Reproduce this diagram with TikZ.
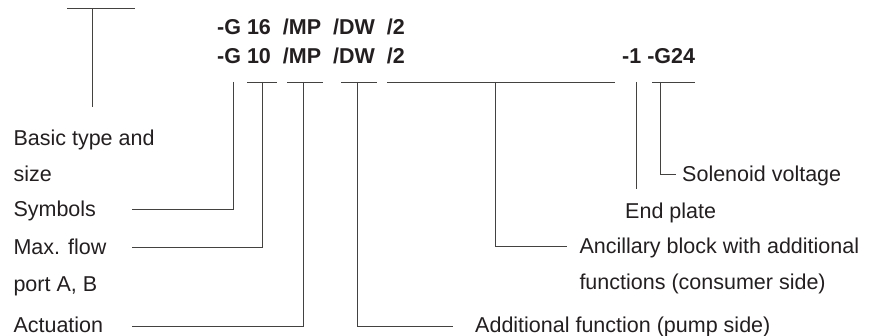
\documentclass[tikz,border=0pt]{standalone}
\usepackage{fontspec}
\setmainfont{Liberation Sans}
\definecolor{ink}{HTML}{231F20}
\begin{document}
\begin{tikzpicture}[x=1pt,y=-1pt,
  lbl/.style={font=\fontsize{21.5}{24}\selectfont,text=ink,inner sep=0pt,anchor=base west},
  code/.style={font=\fontsize{21.5}{24}\selectfont\bfseries,text=ink,inner sep=0pt,anchor=base west},
  wire/.style={draw=ink!85,line width=0.9pt}]
\useasboundingbox (0,0) rectangle (878,336);
% code lines
\node[code] (c1) at (217,35) {-G 16\ \ /MP\ \ /DW\ \ /2};
\node[code] (c2) at (217,64) {-G 10\ \ /MP\ \ /DW\ \ /2};
\node[code] (c3) at (622,64) {-1 -G24};
% labels left
\node[lbl] (basic) at (13.3,146) {Basic type and};
\node[lbl] (size) at (13.3,182) {size};
\node[lbl] (sym) at (13.3,217) {Symbols};
\node[lbl] (maxf) at (13.3,254.5) {Max. flow};
\node[lbl] (port) at (13.3,292) {port A, B};
\node[lbl] (act) at (13.3,333) {Actuation};
% labels right
\node[lbl] (sol) at (682,181.5) {Solenoid voltage};
\node[lbl] (endp) at (625,219) {End plate};
\node[lbl] (anc) at (579.3,254) {Ancillary block with additional};
\node[lbl] (fun) at (579.3,290) {functions (consumer side)};
\node[lbl] (add) at (475,333) {Additional function (pump side)};
% coordinates
\coordinate (tl) at (67,8.3); \coordinate (tr) at (135,8.3);
\coordinate (tm) at (92.7,8.3); \coordinate (tb) at (92.7,107);
\coordinate (gTop) at (233.3,82); \coordinate (gEnd) at (131.7,209.3);
\coordinate (aL) at (247,82); \coordinate (aR) at (277,82); \coordinate (aM) at (262.3,82); \coordinate (aEnd) at (131.7,247.3);
\coordinate (bL) at (287,82); \coordinate (bR) at (323,82); \coordinate (bM) at (303.3,82); \coordinate (bEnd) at (131.7,326);
\coordinate (dL) at (341,82); \coordinate (dR) at (377,82); \coordinate (dM) at (357.7,82); \coordinate (dEnd) at (453,326);
\coordinate (eL) at (387,82); \coordinate (eR) at (615,82); \coordinate (eM) at (495.7,82); \coordinate (eEnd) at (566.7,246.7);
\coordinate (fTop) at (636,82); \coordinate (fEnd) at (636,189.5);
\coordinate (hL) at (652,82); \coordinate (hR) at (695,82); \coordinate (hM) at (660,82); \coordinate (hEnd) at (676,174);
% wires
\draw[wire] (tl) -- (tr) (tm) -- (tb);
\draw[wire] (gTop) |- (gEnd);
\draw[wire] (aL) -- (aR) (aM) |- (aEnd);
\draw[wire] (bL) -- (bR) (bM) |- (bEnd);
\draw[wire] (dL) -- (dR) (dM) |- (dEnd);
\draw[wire] (eL) -- (eR) (eM) |- (eEnd);
\draw[wire] (fTop) -- (fEnd);
\draw[wire] (hL) -- (hR) (hM) |- (hEnd);
\end{tikzpicture}
\end{document}
